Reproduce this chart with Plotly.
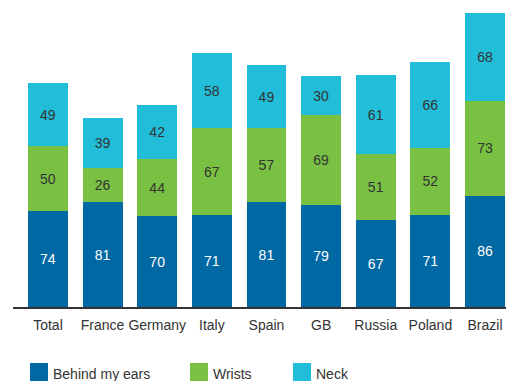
import plotly.graph_objects as go

categories = ["Total", "France", "Germany", "Italy", "Spain", "GB", "Russia", "Poland", "Brazil"]
behind_ears = [74, 81, 70, 71, 81, 79, 67, 71, 86]
wrists = [50, 26, 44, 67, 57, 69, 51, 52, 73]
neck = [49, 39, 42, 58, 49, 30, 61, 66, 68]
series_names = ["Behind my ears", "Wrists", "Neck"]
colors = ["#0068A3", "#7AC143", "#22BDD9"]
text_colors = ["#FFFFFF", "#333333", "#333333"]

FONT = "Liberation Sans, Arial, sans-serif"
W, H = 506, 381
fig = go.Figure()
for name, vals, c, tc in zip(series_names, [behind_ears, wrists, neck], colors, text_colors):
    fig.add_trace(go.Bar(
        x=list(range(len(categories))), y=vals, name=name,
        marker=dict(color=c, line=dict(width=0)),
        text=[str(v) for v in vals], textposition="inside",
        insidetextanchor="middle",
        textfont=dict(family=FONT, size=14, color=tc),
        width=0.73, showlegend=False,
    ))

fig.update_layout(
    width=W, height=H, barmode="stack",
    margin=dict(l=13, r=0, t=0, b=74),
    plot_bgcolor="white", paper_bgcolor="white",
    uniformtext=dict(minsize=14, mode="show"),
    xaxis=dict(
        range=[-0.64, 8.384], tickmode="array",
        tickvals=list(range(len(categories))), ticktext=categories,
        showgrid=False, zeroline=False, showline=True, linecolor="#333333", linewidth=1.5,
        ticks="", ticklabelstandoff=4,
        tickfont=dict(family=FONT, size=14, color="#333333"),
    ),
    yaxis=dict(range=[0, 237], visible=False, showgrid=False, zeroline=False),
    font=dict(family=FONT),
)

# custom legend
legend_x = [30, 190, 293]
for name, c, lx in zip(series_names, colors, legend_x):
    fig.add_shape(type="rect", xref="paper", yref="paper",
                  x0=(lx - 13) / (W - 13), x1=(lx + 18 - 13) / (W - 13),
                  y0=(307 - 381) / 307, y1=(307 - 363) / 307,
                  fillcolor=c, line=dict(width=0), layer="above")
    fig.add_annotation(xref="paper", yref="paper",
                       x=(lx + 21 - 13) / (W - 13), y=(307 - 374) / 307,
                       xanchor="left", yanchor="middle", showarrow=False,
                       text=name, font=dict(size=14, color="#333333", family=FONT))

fig.write_html("out.html")
